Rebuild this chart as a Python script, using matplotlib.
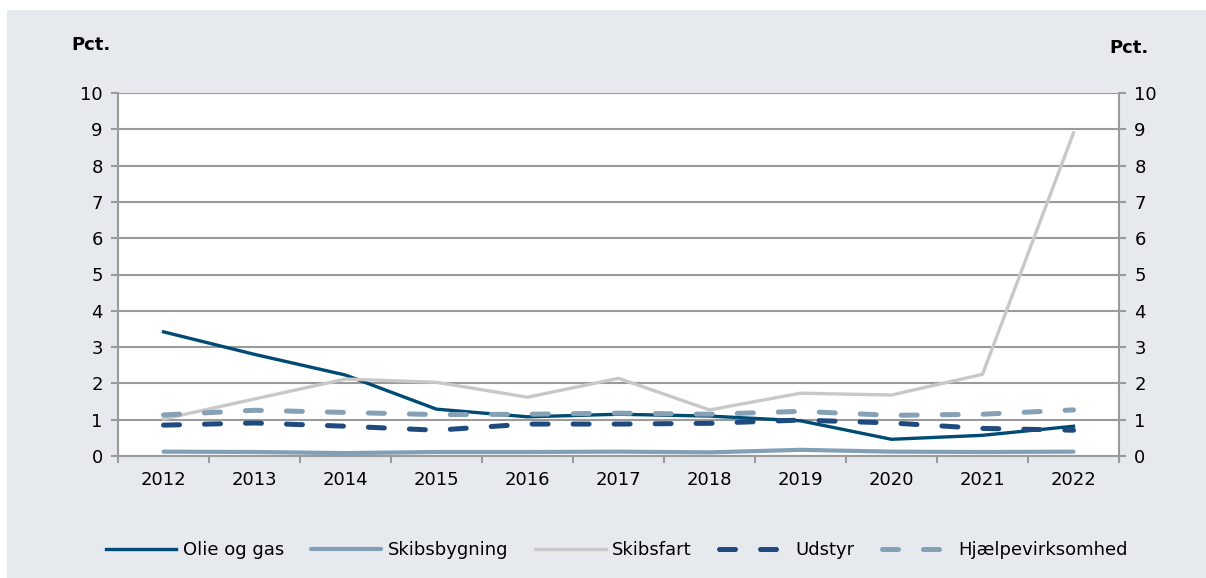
import numpy as np
import matplotlib.pyplot as plt
from matplotlib.patches import Rectangle

# data
years = ['2012', '2013', '2014', '2015', '2016', '2017', '2018', '2019', '2020', '2021', '2022']
olie = [3.42, 2.8, 2.23, 1.29, 1.08, 1.15, 1.1, 0.97, 0.46, 0.57, 0.82]
skibsbygning = [0.12, 0.11, 0.08, 0.11, 0.11, 0.12, 0.1, 0.17, 0.12, 0.11, 0.12]
skibsfart = [1.02, 1.57, 2.12, 2.03, 1.62, 2.14, 1.27, 1.73, 1.68, 2.25, 8.9]
udstyr = [0.85, 0.91, 0.82, 0.71, 0.88, 0.88, 0.9, 0.99, 0.91, 0.76, 0.71]
hjaelp = [1.13, 1.26, 1.2, 1.14, 1.15, 1.18, 1.15, 1.23, 1.12, 1.15, 1.27]

bg = '#E6EAEE'
gridc = '#9A9A9A'

fig = plt.figure(figsize=(12.06, 5.78), dpi=100, facecolor='white')
fig.patches.append(Rectangle((7 / 1206, 0), 1 - 7 / 1206, 1 - 10 / 578,
                             transform=fig.transFigure, facecolor=bg,
                             edgecolor='none', zorder=-10))

ax = fig.add_axes([118 / 1206, 1 - 456 / 578, (1119 - 118) / 1206, (456 - 93) / 578])
ax.set_facecolor('white')
x = np.arange(len(years))

# series drawn in the Excel order: later ones on top
ax.plot(x, olie, color='#004B73', lw=2.4, label='Olie og gas', zorder=3)
ax.plot(x, skibsbygning, color='#819FB5', lw=3, solid_capstyle='round', label='Skibsbygning', zorder=4)
ax.plot(x, skibsfart, color='#C8C8C8', lw=2.4, label='Skibsfart', zorder=5)
ax.plot(x, udstyr, color='#1F4A80', lw=3.6, dashes=(3.2, 5), dash_capstyle='round',
        label='Udstyr', zorder=6)
ax.plot(x, hjaelp, color='#86A0B5', lw=3.6, dashes=(3.2, 5), dash_capstyle='round',
        label='Hjælpevirksomhed', zorder=7)

ax.set_xlim(-0.5, len(years) - 0.5)
ax.set_ylim(0, 10)
ax.set_yticks(range(0, 11))
ax.set_xticks(x)
ax.set_xticklabels(years)
ax.set_xticks(np.arange(-0.5, len(years)), minor=True)
ax.tick_params(axis='x', which='major', length=0, labelsize=13, pad=11)
ax.tick_params(axis='x', which='minor', length=5, color=gridc, width=1.5)
ax.tick_params(axis='y', length=5, color=gridc, width=1.5, labelsize=13, pad=6,
               right=True, labelright=True)
ax.grid(axis='y', color=gridc, lw=1.5)
ax.set_axisbelow(True)
for s in ax.spines.values():
    s.set_color(gridc)
    s.set_linewidth(1.5)
ax.spines['top'].set_visible(False)

fig.text(91 / 1206, 1 - 45 / 578, 'Pct.', fontsize=13, fontweight='bold', ha='center', va='center')
fig.text(1129 / 1206, 1 - 48 / 578, 'Pct.', fontsize=13, fontweight='bold', ha='center', va='center')

h, l = ax.get_legend_handles_labels()
fig.legend(h, l, loc='center', bbox_to_anchor=(617 / 1206, 1 - 550 / 578), ncol=5,
           frameon=False, fontsize=13, handlelength=3.9, handletextpad=0.35,
           columnspacing=1.5)

fig.savefig('out.png', dpi=100, facecolor=fig.get_facecolor())
